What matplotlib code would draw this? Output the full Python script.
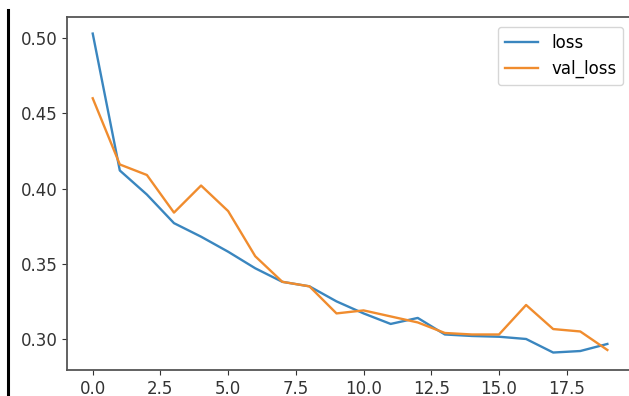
import matplotlib
matplotlib.use('Agg')

import matplotlib.pyplot as plt
from matplotlib.lines import Line2D

# training history per epoch
epochs = list(range(20))
loss = [0.503, 0.412, 0.396, 0.377, 0.368, 0.358, 0.347, 0.338, 0.335, 0.325,
        0.317, 0.310, 0.314, 0.303, 0.302, 0.3015, 0.300, 0.291, 0.292, 0.2967]
val_loss = [0.460, 0.416, 0.409, 0.384, 0.402, 0.385, 0.355, 0.338, 0.335, 0.317,
            0.319, 0.315, 0.311, 0.304, 0.303, 0.303, 0.3226, 0.3066, 0.305, 0.2927]

fig = plt.figure(figsize=(6.29, 3.96), dpi=100)
ax = fig.add_axes([0.1065, 0.0657, 0.90, 0.8913])

ax.plot(epochs, loss, color='#3a86bf', linewidth=1.7, label='loss')
ax.plot(epochs, val_loss, color='#f08c2e', linewidth=1.7, label='val_loss')

ax.set_xlim(-0.95, 19.95)
ax.set_ylim(0.2794, 0.514)
ax.set_yticks([0.30, 0.35, 0.40, 0.45, 0.50])
ax.tick_params(labelsize=12, colors='#333333')
for s in ax.spines.values():
    s.set_color('#555555')
    s.set_linewidth(1.3)

ax.legend(loc='upper right', fontsize=12, borderaxespad=0.6)

# dark bar at the left edge
fig.add_artist(Line2D([0.0135, 0.0135], [0.0, 0.975], color='black', linewidth=2.2,
                      transform=fig.transFigure))

fig.savefig('out.png', dpi=100)
plt.close('all')
